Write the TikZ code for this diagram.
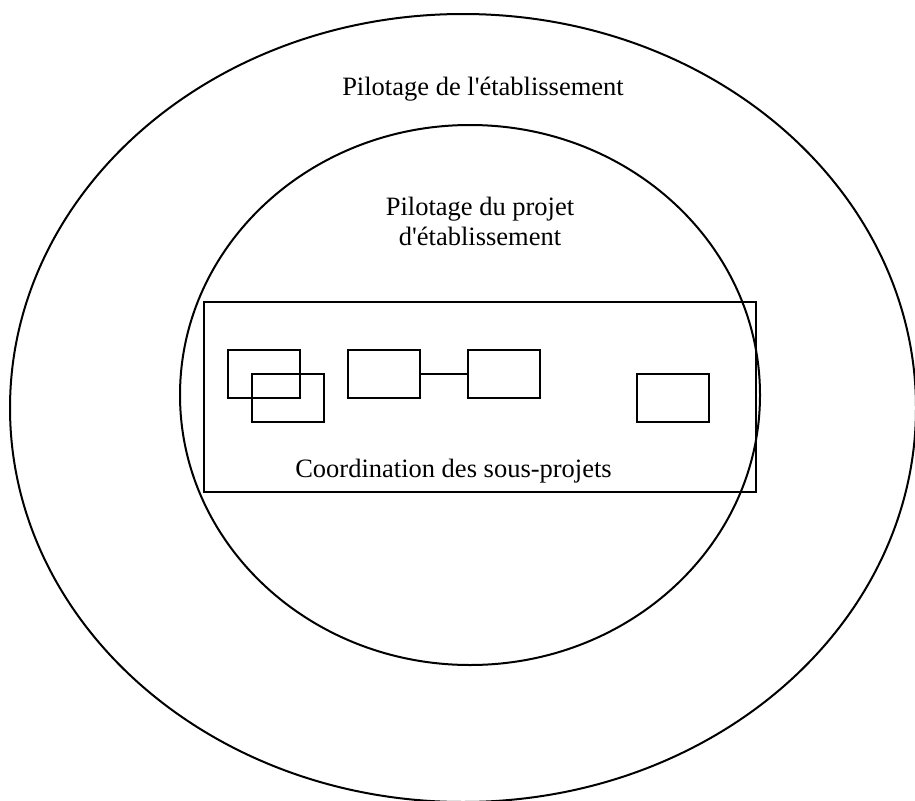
\documentclass[tikz,border=0pt]{standalone}
\usepackage{fontspec}
\setmainfont{Liberation Serif}
\usetikzlibrary{shapes.geometric}
\newcommand{\labelSize}[0]{\fontsize{26.5}{30}\selectfont}

\begin{document}
\begin{tikzpicture}[x=1pt, y=-1pt, line width=2pt]
  \tikzset{pilotage/.style={draw, ellipse, inner sep=0pt},
    sousprojet/.style={draw, rectangle, inner sep=0pt, minimum width=72pt, minimum height=48pt},
    libelle/.style={font=\labelSize, align=center, inner sep=0pt, anchor=base}}
  \useasboundingbox (0,0) rectangle (915,800);
  % les deux niveaux de pilotage
  \node[pilotage, minimum width=906pt, minimum height=788pt] (etab) at (463,408) {};
  \node[pilotage, minimum width=580pt, minimum height=540pt] (projet) at (470,395) {};
  \node[libelle] (etabTxt) at (483,95) {Pilotage de l\textquotesingle établissement};
  \node[libelle] (projetTxt) at (480,245) {Pilotage du projet\\d\textquotesingle établissement};
  % coordination
  \node[draw, rectangle, inner sep=0pt, minimum width=552pt, minimum height=190pt] (coord) at (480,397) {};
  \node[libelle] (coordTxt) at (453.5,477) {Coordination des sous-projets};
  % sous-projets
  \node[sousprojet] (sp1) at (264,373.5) {};
  \node[sousprojet] (sp2) at (288,397.5) {};
  \node[sousprojet] (sp3) at (384,373.5) {};
  \node[sousprojet] (sp4) at (504,373.5) {};
  \node[sousprojet] (sp5) at (672.5,397.5) {};
  \draw (sp3.east) -- (sp4.west);
\end{tikzpicture}
\end{document}
